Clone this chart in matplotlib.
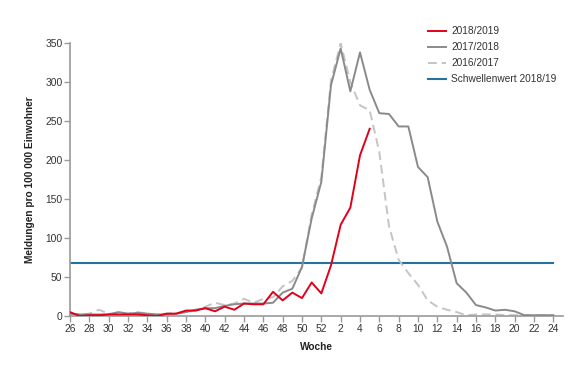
import matplotlib
matplotlib.use('agg')
import matplotlib.pyplot as plt

weeks = [26, 27, 28, 29, 30, 31, 32, 33, 34, 35, 36, 37, 38, 39, 40, 41, 42, 43, 44, 45,
         46, 47, 48, 49, 50, 51, 52, 1, 2, 3, 4, 5, 6, 7, 8, 9, 10, 11, 12, 13,
         14, 15, 16, 17, 18, 19, 20, 21, 22, 23, 24]

season_2018_19 = [5, 0, 1, 1, 2, 2, 2, 2, 1, 0, 3, 3, 7, 7, 10, 6, 12, 8, 16, 15,
                  15, 31, 20, 30, 23, 43, 29, 65, 117, 139, 206, 240]
season_2017_18 = [3, 2, 2, 2, 2, 5, 3, 4, 3, 2, 2, 3, 5, 8, 10, 10, 13, 15, 16, 16,
                  16, 17, 30, 35, 63, 125, 172, 296, 343, 288, 338, 290, 260, 259, 243, 243, 191, 178, 121, 89,
                  42, 30, 14, 11, 7, 8, 6, 1, 1, 1, 1]
season_2016_17 = [2, 2, 3, 8, 3, 3, 3, 5, 3, 2, 3, 4, 5, 7, 12, 17, 14, 16, 22, 17,
                  22, 24, 38, 45, 62, 130, 178, 302, 350, 300, 270, 264, 210, 115, 72, 55, 40, 20, 12, 8,
                  5, 1, 2, 2, 2, 1, 1, 1, 1, 1, 1]
threshold = 68

plt.rcParams['font.family'] = ['Liberation Sans', 'DejaVu Sans']

fig = plt.figure(figsize=(5.82, 3.65), dpi=100)
ax = fig.add_axes([70 / 582, 1 - 316 / 365, 493 / 582, 273 / 365])

pos = list(range(len(weeks)))
ax.plot(pos[:len(season_2018_19)], season_2018_19, color='#e2001a', lw=1.4, label='2018/2019', zorder=4)
ax.plot(pos, season_2017_18, color='#8a8a8a', lw=1.4, label='2017/2018', zorder=3)
ax.plot(pos, season_2016_17, color='#c4c4c4', lw=1.4, ls=(0, (4.5, 2.5)), label='2016/2017', zorder=2)
ax.plot([0, pos[-1]], [threshold, threshold], color='#2571a0', lw=1.5,
        label='Schwellenwert 2018/19', zorder=1)

ax.set_xlim(0, 51)
ax.set_ylim(0, 350)
ax.set_xticks(pos[::2])
ax.set_xticklabels([str(w) for w in weeks[::2]])
ax.set_yticks(range(0, 351, 50))

for s in ['top', 'right']:
    ax.spines[s].set_visible(False)
for s in ['left', 'bottom']:
    ax.spines[s].set_color('#9a9a9a')
    ax.spines[s].set_linewidth(1.2)
ax.tick_params(colors='#9a9a9a', labelcolor='#333333', labelsize=7.4, length=4, width=1, pad=1.5)

ax.set_xlabel('Woche', fontsize=7.3, fontweight='bold', color='#222222', labelpad=6)
ax.set_ylabel('Meldungen pro 100 000 Einwohner', fontsize=7.3, fontweight='bold', color='#222222', labelpad=7)

ax.legend(loc='upper left', bbox_to_anchor=(419 / 582, 1 - 17 / 365), bbox_transform=fig.transFigure,
          frameon=False, fontsize=7.3, handlelength=1.8, handletextpad=0.5, labelspacing=0.6,
          labelcolor='#333333')

fig.savefig('out.png', dpi=100)
